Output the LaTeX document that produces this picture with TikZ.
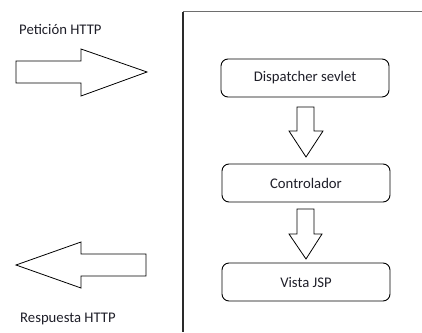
\documentclass[tikz,border=0pt]{standalone}
\usepackage{fontspec}
\setmainfont{Carlito}
\definecolor{txt}{HTML}{1E1E28}
\definecolor{frameg}{HTML}{6E6E6E}
\definecolor{framed}{HTML}{2A2A2A}
\begin{document}
\begin{tikzpicture}[x=1pt,y=-1pt,
  lbl/.style={font=\fontsize{14.7}{17}\selectfont, text=txt, inner sep=0pt},
  procbox/.style={draw=black, line width=0.9pt, rounded corners=7pt, minimum width=168pt, minimum height=38pt, inner sep=0pt, font=\fontsize{14.7}{17}\selectfont, text=txt},
  blockarrow/.style={draw=black, line width=0.8pt, fill=white, line join=miter}]
\useasboundingbox (0,0) rectangle (422,332);
% outer frame
\coordinate (fc) at (183,11.5);
\coordinate (fr) at (422,11.5);
\coordinate (fb) at (183,332);
\draw[frameg, line width=1.3pt] (fc) -- (fr);
\draw[framed, line width=1.2pt] (fc) -- (fb);
% labels
\node[lbl, anchor=west] (pet) at (19,29) {Petición HTTP};
\node[lbl, anchor=west] (res) at (20,319) {Respuesta HTTP};
% boxes
\node[procbox] (disp) at (305,78) {Dispatcher sevlet};
\node[procbox] (ctrl) at (306,183) {Controlador};
\node[procbox] (vista) at (306,282) {Vista JSP};
% incoming request arrow
\draw[blockarrow] (16,61) -- (81,61) -- (81,49) -- (147,72) -- (81,96) -- (81,83) -- (16,83) -- cycle;
% outgoing response arrow
\draw[blockarrow] (16,265) -- (81,242) -- (81,254) -- (146,254) -- (146,276) -- (81,276) -- (81,288) -- cycle;
% down arrows
\draw[blockarrow] (297,107) -- (314,107) -- (314,131) -- (323,131) -- (306,157) -- (289,131) -- (297,131) -- cycle;
\draw[blockarrow] (297,209) -- (314,209) -- (314,234) -- (322,234) -- (306,259) -- (289,234) -- (297,234) -- cycle;
\end{tikzpicture}
\end{document}
